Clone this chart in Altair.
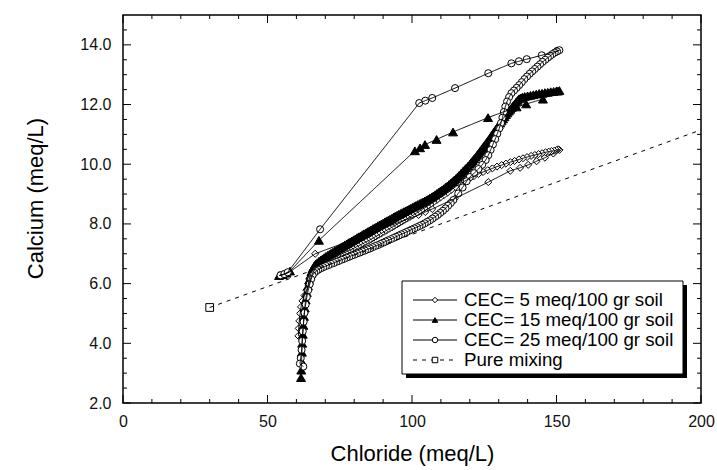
import altair as alt
import pandas as pd

# ---------------- data ----------------
series_names = ["CEC= 5 meq/100 gr soil", "CEC= 15 meq/100 gr soil",
                "CEC= 25 meq/100 gr soil", "Pure mixing"]

cec5_x = [54.5, 56.0, 57.5,
          66.5, 102.3, 104.6, 107.0, 114.8, 126.4, 134.0, 137.4, 140.2, 143.1, 146.0, 148.9, 151.0,
          150.5, 150.0, 149.2, 148.3, 147.3, 146.2, 145.0, 143.8, 142.5, 141.2, 139.8, 138.4, 137.0,
          135.5, 134.0, 132.5, 131.0, 129.4, 127.8, 126.2, 124.6, 123.0, 121.4, 119.8, 118.2, 116.6,
          115.0, 113.6, 112.3, 111.0, 109.8, 108.6, 107.5, 106.4, 105.3, 104.3, 103.3, 102.3, 101.3,
          100.3, 99.4, 98.5, 97.6, 96.7, 95.8, 94.9, 94.0, 93.1, 92.2, 91.3, 90.4, 89.5, 88.6, 87.7,
          86.8, 85.9, 85.0, 84.1, 83.2, 82.3, 81.4, 80.5, 79.6, 78.7, 77.8, 76.9, 76.0, 75.1, 74.2,
          73.3, 72.4, 71.5, 70.6, 69.7, 68.8, 68.0, 67.2, 66.5, 65.9, 65.3, 64.8, 64.2, 63.5, 62.8,
          62.1, 61.6, 61.3, 61.0, 60.8, 60.7]
cec5_y = [6.28, 6.32, 6.38,
          7.00, 8.30, 8.40, 8.50, 8.85, 9.40, 9.78, 9.88, 9.98, 10.10, 10.22, 10.36, 10.48,
          10.50, 10.47, 10.45, 10.44, 10.42, 10.40, 10.37, 10.34, 10.31, 10.28, 10.24, 10.20, 10.16,
          10.11, 10.07, 10.02, 9.97, 9.92, 9.86, 9.80, 9.74, 9.67, 9.60, 9.52, 9.43, 9.34,
          9.24, 9.14, 9.05, 8.96, 8.88, 8.80, 8.73, 8.66, 8.59, 8.53, 8.47, 8.41, 8.35,
          8.29, 8.24, 8.19, 8.14, 8.09, 8.04, 7.99, 7.94, 7.89, 7.84, 7.79, 7.74, 7.69, 7.64, 7.59,
          7.54, 7.49, 7.44, 7.40, 7.35, 7.31, 7.26, 7.22, 7.17, 7.13, 7.09, 7.05, 7.01, 6.97, 6.93,
          6.89, 6.85, 6.81, 6.77, 6.72, 6.67, 6.62, 6.56, 6.49, 6.40, 6.28, 6.12, 5.95, 5.78, 5.60,
          5.42, 5.22, 5.00, 4.75, 4.50, 4.25]

cec15_x = [54.0, 55.3, 56.6, 57.8,
           67.8, 101.0, 102.8, 104.5, 108.5, 114.2, 126.3, 136.2, 139.5, 145.3, 150.5,
           151.0, 150.0, 149.0, 148.0, 147.0, 146.0, 145.0, 144.0, 143.0, 142.0, 141.0, 140.0,
           139.0, 138.2, 137.5,
           137.0, 136.5, 136.0, 135.5, 135.0, 134.5, 134.0, 133.5, 133.0, 132.5, 132.0, 131.5,
           131.0, 130.5, 130.0, 129.5, 129.0, 128.5, 128.0, 127.5, 127.0, 126.5, 126.0, 125.5,
           125.0, 124.5, 124.0, 123.5, 123.0, 122.5, 122.0, 121.5, 121.0, 120.5, 120.0, 119.4,
           118.8, 118.2, 117.6, 117.0, 116.4, 115.8, 115.2, 114.6, 114.0, 113.4, 112.8, 112.2,
           111.6, 111.0, 110.4, 109.8, 109.2, 108.6, 108.0, 107.4, 106.8, 106.2, 105.6, 105.0,
           104.4, 103.8, 103.2, 102.6, 102.0, 101.4, 100.8, 100.2, 99.6, 99.0, 98.4, 97.8, 97.2,
           96.6, 96.0, 95.4, 94.8, 94.2, 93.6, 93.0, 92.4, 91.8, 91.2, 90.6, 90.0, 89.4, 88.8,
           88.2, 87.6, 87.0, 86.4, 85.8, 85.2, 84.6, 84.0, 83.4, 82.8, 82.2, 81.6, 81.0, 80.4,
           79.8, 79.2, 78.6, 78.0, 77.4, 76.8, 76.2, 75.6, 75.0, 74.4, 73.8, 73.2, 72.6, 72.0,
           71.4, 70.8, 70.2, 69.6, 69.0, 68.4, 67.8, 67.2, 66.6, 66.1, 65.6, 65.2, 64.8, 64.4,
           64.0, 63.6, 63.2, 62.9, 62.6, 62.4, 62.2, 62.0, 61.9, 61.8, 61.7, 61.6]
cec15_y = [6.27, 6.30, 6.35, 6.42,
           7.45, 10.45, 10.55, 10.66, 10.83, 11.08, 11.56, 11.92, 12.02, 12.18, 12.45,
           12.47, 12.46, 12.44, 12.43, 12.41, 12.40, 12.38, 12.37, 12.35, 12.33, 12.31, 12.29,
           12.27, 12.25, 12.22,
           12.19, 12.14, 12.08, 12.02, 11.96, 11.90, 11.84, 11.78, 11.72, 11.66, 11.59, 11.52,
           11.45, 11.38, 11.31, 11.24, 11.17, 11.10, 11.03, 10.96, 10.89, 10.82, 10.75, 10.69,
           10.62, 10.56, 10.49, 10.43, 10.36, 10.30, 10.24, 10.18, 10.12, 10.06, 10.00, 9.94,
           9.88, 9.82, 9.76, 9.70, 9.64, 9.58, 9.52, 9.47, 9.42, 9.37, 9.32, 9.27,
           9.23, 9.18, 9.14, 9.10, 9.06, 9.02, 8.98, 8.94, 8.90, 8.87, 8.83, 8.80,
           8.77, 8.74, 8.71, 8.68, 8.65, 8.62, 8.59, 8.56, 8.53, 8.50, 8.47, 8.44, 8.41,
           8.38, 8.35, 8.32, 8.29, 8.26, 8.23, 8.19, 8.16, 8.13, 8.10, 8.07, 8.03, 8.00, 7.97,
           7.94, 7.90, 7.87, 7.84, 7.80, 7.77, 7.74, 7.70, 7.67, 7.64, 7.60, 7.57, 7.54, 7.50,
           7.47, 7.43, 7.40, 7.37, 7.33, 7.30, 7.26, 7.23, 7.19, 7.16, 7.12, 7.09, 7.05, 7.02,
           6.98, 6.95, 6.91, 6.87, 6.83, 6.79, 6.75, 6.70, 6.65, 6.58, 6.50, 6.40, 6.28, 6.12,
           5.92, 5.70, 5.45, 5.18, 4.90, 4.60, 4.30, 4.00, 3.70, 3.40, 3.10, 2.85]

cec25_x = [54.5, 55.8, 57.0,
           68.2, 102.5, 104.6, 107.0, 114.9, 126.4, 134.4, 137.0, 139.7, 144.9, 150.3,
           151.0, 150.2, 149.4, 148.6, 147.8, 147.0, 146.1, 145.2, 144.3, 143.4, 142.5, 141.6,
           140.7, 139.8, 138.9, 138.0, 137.1, 136.2, 135.3, 134.4, 133.6, 132.9, 132.3, 131.8,
           131.3, 130.8, 130.2, 129.5, 128.8, 128.0, 127.2, 126.4, 125.5, 124.3, 123.0, 121.5,
           120.0, 118.9, 117.5, 116.0, 114.3, 113.4, 112.5, 111.6, 110.7, 109.8, 108.9, 108.0,
           107.1, 106.2, 105.3, 104.4, 103.5, 102.6, 101.7, 100.8, 99.9, 99.0, 98.1, 97.2, 96.3,
           95.4, 94.5, 93.6, 92.7, 91.8, 90.9, 90.0, 89.1, 88.2, 87.3, 86.4, 85.5, 84.6, 83.7,
           82.8, 81.9, 81.0, 80.1, 79.2, 78.3, 77.4, 76.5, 75.6, 74.7, 73.8, 72.9, 72.0, 71.1,
           70.2, 69.3, 68.4, 67.6, 66.9, 66.2, 65.6, 65.1, 64.6, 64.1, 63.6, 63.2, 62.8, 62.5,
           62.2, 62.0, 61.8, 61.5, 61.2, 62.4]
cec25_y = [6.28, 6.32, 6.38,
           7.82, 12.05, 12.13, 12.22, 12.55, 13.05, 13.38, 13.45, 13.52, 13.65, 13.80,
           13.82, 13.78, 13.74, 13.69, 13.63, 13.57, 13.50, 13.43, 13.35, 13.27, 13.19, 13.11,
           13.03, 12.94, 12.85, 12.75, 12.65, 12.56, 12.47, 12.38, 12.25, 12.10, 11.93, 11.75,
           11.56, 11.38, 11.20, 11.02, 10.84, 10.66, 10.48, 10.30, 10.14, 9.98, 9.84, 9.70,
           9.57, 9.43, 9.22, 9.02, 8.80, 8.70, 8.61, 8.52, 8.44, 8.37, 8.30, 8.24,
           8.18, 8.12, 8.07, 8.02, 7.97, 7.93, 7.89, 7.85, 7.81, 7.77, 7.73, 7.69, 7.65,
           7.61, 7.57, 7.53, 7.49, 7.45, 7.41, 7.37, 7.33, 7.29, 7.26, 7.22, 7.18, 7.15, 7.11,
           7.08, 7.04, 7.01, 6.97, 6.94, 6.90, 6.87, 6.83, 6.80, 6.76, 6.73, 6.69, 6.66, 6.62,
           6.59, 6.55, 6.51, 6.47, 6.42, 6.36, 6.28, 6.15, 5.98, 5.78, 5.55, 5.30, 5.02, 4.72,
           4.40, 4.08, 3.78, 3.50, 3.32, 3.22]

pm_x = [30, 200]
pm_y = [5.2, 11.15]
pm_marker_x = [30]
pm_marker_y = [5.2]

x_labels = [0, 50, 100, 150, 200]
y_labels = [2, 4, 6, 8, 10, 12, 14]
x_minor = [10, 20, 30, 40, 60, 70, 80, 90, 110, 120, 130, 140, 160, 170, 180, 190]
y_minor = [2.5, 3, 3.5, 4.5, 5, 5.5, 6.5, 7, 7.5, 8.5, 9, 9.5, 10.5, 11, 11.5,
           12.5, 13, 13.5, 14.5]

# ---------------- build tables ----------------
def frame(name, xs, ys):
    return pd.DataFrame({"series": name, "x": xs, "y": ys, "i": range(len(xs))})

line_df = pd.concat([frame(series_names[0], cec5_x, cec5_y),
                     frame(series_names[1], cec15_x, cec15_y),
                     frame(series_names[2], cec25_x, cec25_y),
                     frame(series_names[3], pm_x, pm_y)], ignore_index=True)

W, H = 578, 388
FONT = "Liberation Sans"
xscale = alt.Scale(domain=[0, 200], nice=False, zero=False)
yscale = alt.Scale(domain=[2, 15], nice=False, zero=False)
dash_scale = alt.Scale(domain=series_names, range=[[1, 0], [1, 0], [1, 0], [4, 5]])
shape_scale = alt.Scale(domain=series_names, range=["diamond", "triangle-up", "circle", "square"])
fill_scale = alt.Scale(domain=series_names, range=["white", "black", "white", "white"])

x_axis = alt.Axis(values=x_labels, format="d", title="Chloride (meq/L)", ticks=False, tickSize=0,
                  domain=False, grid=False, labelFontSize=16, labelPadding=10, labelFlush=False,
                  labelColor="#111111", titleColor="black", titleFontSize=22,
                  titleFontWeight="normal", titlePadding=14, labelFont=FONT, titleFont=FONT)
y_axis = alt.Axis(values=y_labels, format=".1f", title="Calcium (meq/L)", ticks=False, tickSize=0,
                  domain=False, grid=False, labelFontSize=16, labelPadding=12, labelFlush=False,
                  labelColor="#111111", titleColor="black", titleFontSize=22,
                  titleFontWeight="normal", titleX=-76, titleY=183, titleBaseline="bottom",
                  labelFont=FONT, titleFont=FONT)

def X():
    return alt.X("x:Q", scale=xscale, axis=x_axis)

def Y():
    return alt.Y("y:Q", scale=yscale, axis=y_axis)

layers = []

# markers, one layer per series (drawing order 5, 15, 25)
marker_specs = [
    (cec5_x, cec5_y, "diamond", "white", 50),
    (cec15_x, cec15_y, "triangle-up", "black", 80),
    (cec25_x, cec25_y, "circle", "white", 50),
    (pm_marker_x, pm_marker_y, "square", "white", 60),
]
for xs, ys, shp, fl, sz in marker_specs:
    df = pd.DataFrame({"x": xs, "y": ys})
    layers.append(alt.Chart(df).mark_point(shape=shp, filled=True, fill=fl, stroke="black",
                                           strokeWidth=1, opacity=1, size=sz)
                  .encode(x=X(), y=Y()))

# connecting lines (on top of markers)
layers.append(alt.Chart(line_df).mark_line(color="black", strokeWidth=1).encode(
    x=X(), y=Y(), order="i:Q", detail="series:N",
    strokeDash=alt.StrokeDash("series:N", scale=dash_scale, legend=None)))

# inward ticks on all four sides
def xticks(vals, length):
    d = pd.DataFrame({"x": vals})
    base = alt.Chart(d).mark_rule(color="black", strokeWidth=1)
    return [base.encode(x=X(), y=alt.value(H), y2=alt.value(H - length)),
            base.encode(x=X(), y=alt.value(0), y2=alt.value(length))]

def yticks(vals, length):
    d = pd.DataFrame({"y": vals})
    base = alt.Chart(d).mark_rule(color="black", strokeWidth=1)
    return [base.encode(y=Y(), x=alt.value(0), x2=alt.value(length)),
            base.encode(y=Y(), x=alt.value(W), x2=alt.value(W - length))]

layers += xticks(x_labels, 8) + xticks(x_minor, 4) + yticks(y_labels, 8) + yticks(y_minor, 4)

# legend box with shadow
one = pd.DataFrame({"a": [0]})
LX0, LY0, LX1, LY1 = 279, 266, 560, 359
layers.append(alt.Chart(one).mark_rect(color="black").encode(
    x=alt.value(LX0 + 4), x2=alt.value(LX1 + 4), y=alt.value(LY0 + 4), y2=alt.value(LY1 + 4)))
layers.append(alt.Chart(one).mark_rect(fill="white", stroke="black", strokeWidth=1).encode(
    x=alt.value(LX0), x2=alt.value(LX1), y=alt.value(LY0), y2=alt.value(LY1)))

leg_df = pd.DataFrame({"series": series_names,
                       "ypix": [LY0 + 19 + 20 * k for k in range(4)]})
ly = alt.Y("ypix:Q", scale=None, axis=None)
layers.append(alt.Chart(leg_df).mark_rule(color="black", strokeWidth=1).encode(
    x=alt.value(LX0 + 11), x2=alt.value(LX0 + 55), y=ly,
    strokeDash=alt.StrokeDash("series:N", scale=dash_scale, legend=None)))
layers.append(alt.Chart(leg_df).mark_point(filled=True, stroke="black", strokeWidth=1,
                                           opacity=1, size=30).encode(
    x=alt.value(LX0 + 33), y=ly,
    shape=alt.Shape("series:N", scale=shape_scale, legend=None),
    fill=alt.Fill("series:N", scale=fill_scale, legend=None)))
layers.append(alt.Chart(leg_df).mark_text(align="left", baseline="middle", fontSize=18.7,
                                          font=FONT, color="black").encode(
    x=alt.value(LX0 + 62), y=ly, text="series:N"))

chart = alt.layer(*layers).properties(
    width=W, height=H,
    autosize=alt.AutoSizeParams(type="none"),
    padding={"left": 123, "top": 15, "right": 16, "bottom": 67},
    background="white",
).configure_view(stroke="black", strokeWidth=1.5)

chart.save("out.html", embed_options={"renderer": "svg", "actions": False})
